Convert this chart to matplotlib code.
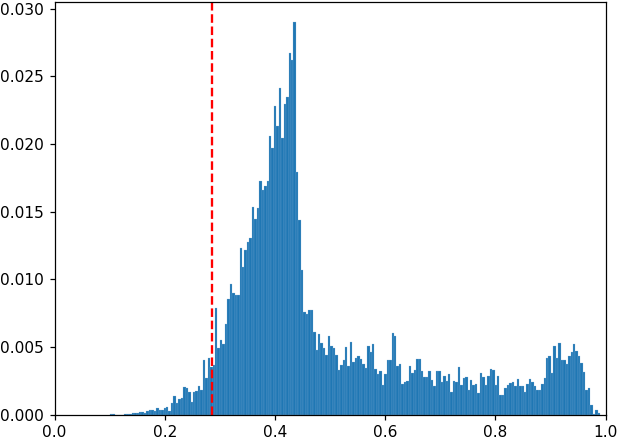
#!/usr/bin/env python3
"""
Histogram of score distribution with threshold marker.
"""

import numpy as np
import matplotlib
matplotlib.use('Agg')
import matplotlib.pyplot as plt

# Bin range (200 equal bins between the smallest and largest score)
bin_lo = 0.1
bin_hi = 0.99
n_bins = 200

# Threshold marker
threshold = 0.2858

# Bar heights (fraction of samples per bin), read left to right
left_tail = [
    0.00007, 0.00007, 0.0, 0.0, 0.0, 0.0, 0.00007, 0.00007, 0.00007, 0.00009,
    0.00009, 0.00009, 0.00020, 0.00020, 0.00013, 0.00024, 0.00035, 0.00035, 0.00024, 0.00049,
    0.00035, 0.00035, 0.00049, 0.00059, 0.00029, 0.00088, 0.00138, 0.00088, 0.00118, 0.00125,
    0.00206, 0.00199, 0.00170, 0.00096, 0.00170, 0.00177, 0.00214, 0.00184, 0.00405, 0.00273,
    0.00420, 0.00354, 0.00369,
]
peak = [
    0.00789, 0.00494, 0.00553, 0.00523, 0.00671, 0.00855, 0.00965, 0.00899, 0.00884, 0.00884,
    0.01231, 0.01091, 0.01216, 0.01275, 0.01305, 0.01533, 0.01445, 0.01526, 0.01725, 0.01658,
    0.01688, 0.01725, 0.02056, 0.01968, 0.02277, 0.02130, 0.02410, 0.02041, 0.02292, 0.02344,
    0.02675, 0.02624, 0.02904, 0.01791, 0.01437, 0.01069,
]
plateau = [
    0.00759, 0.00744, 0.00774, 0.00774, 0.00612, 0.00479, 0.00597, 0.00531, 0.00494, 0.00442,
    0.00582, 0.00509, 0.00494, 0.00442, 0.00332, 0.00369, 0.00405, 0.00501, 0.00361, 0.00538,
    0.00391, 0.00420, 0.00435, 0.00413, 0.00376, 0.00346, 0.00509, 0.00464, 0.00523, 0.00339,
    0.00302, 0.00324, 0.00221, 0.00302, 0.00405, 0.00405, 0.00604, 0.00582, 0.00361, 0.00376,
    0.00228, 0.00243, 0.00251, 0.00361, 0.00310, 0.00332, 0.00413, 0.00413, 0.00324, 0.00280,
    0.00280, 0.00324, 0.00258, 0.00214, 0.00324, 0.00324, 0.00243, 0.00287, 0.00251, 0.00302,
    0.00170, 0.00251, 0.00243, 0.00354, 0.00221, 0.00273, 0.00280, 0.00184, 0.00258, 0.00221,
    0.00228, 0.00162, 0.00310, 0.00280, 0.00221, 0.00287, 0.00339, 0.00332, 0.00221, 0.00287,
    0.00147, 0.00147, 0.00199, 0.00221, 0.00236, 0.00243, 0.00214, 0.00265, 0.00214, 0.00214,
    0.00170, 0.00228, 0.00265, 0.00243, 0.00214, 0.00184, 0.00184, 0.00228, 0.00273,
]
right_bump = [
    0.00420, 0.00435, 0.00310, 0.00509, 0.00420, 0.00531, 0.00405, 0.00405, 0.00376, 0.00435,
    0.00464, 0.00523, 0.00472, 0.00435, 0.00383, 0.00317, 0.00184, 0.00199, 0.00074, 0.00007,
    0.00037, 0.00015,
]

heights = np.array(left_tail + peak + plateau + right_bump)
edges = np.linspace(bin_lo, bin_hi, n_bins + 1)
centers = 0.5 * (edges[:-1] + edges[1:])

# Figure: 622x440 px
dpi = 111
fig = plt.figure(figsize=(622 / dpi, 440 / dpi), dpi=dpi)
ax = fig.add_axes([54.5 / 622, 25.4 / 440, 551 / 622, 412.6 / 440])

# Very thin light edges give the faint seams between bars
ax.hist(centers, bins=edges, weights=heights, color='#1f77b4',
        edgecolor='#8fb8dc', linewidth=0.15)
ax.axvline(threshold, color='red', linestyle='--', linewidth=1.5)

ax.set_xlim(0.0, 1.0)
ax.set_xticks([0.0, 0.2, 0.4, 0.6, 0.8, 1.0])
ax.set_yticks([0.0, 0.005, 0.010, 0.015, 0.020, 0.025, 0.030])
ax.yaxis.set_major_formatter(matplotlib.ticker.FormatStrFormatter('%.3f'))

fig.savefig('out.png', dpi=dpi)
plt.close(fig)
